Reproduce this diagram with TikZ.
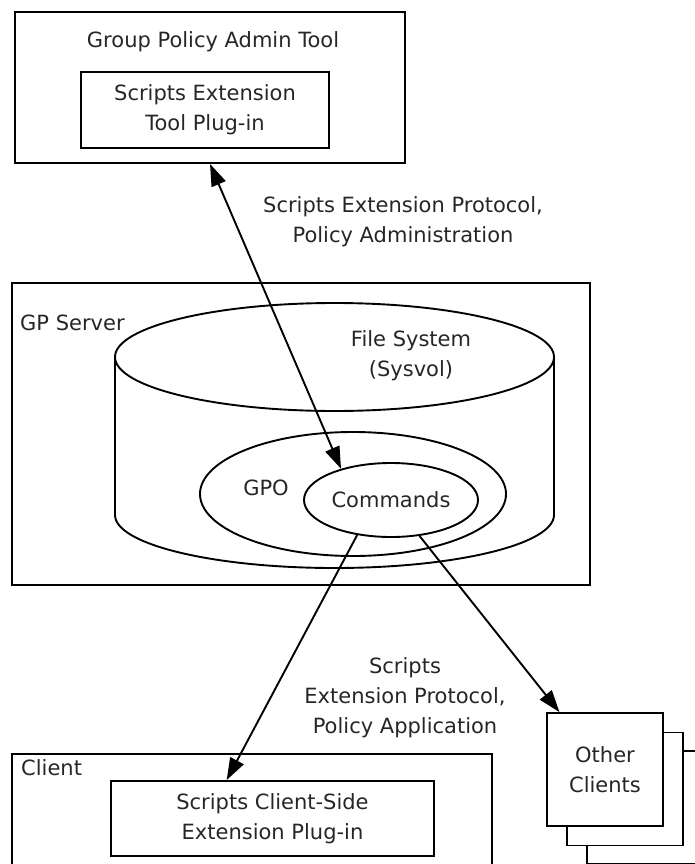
\documentclass[tikz,border=0pt]{standalone}
\usepackage{fontspec}
\setmainfont{DejaVu Sans}
\usetikzlibrary{arrows.meta}
\usetikzlibrary{shapes.geometric}

\begin{document}
\begin{tikzpicture}[x=1pt, y=-1pt,
    font=\fontsize{21}{30}\selectfont,
    box/.style={draw, line width=1.9pt, inner sep=0pt, align=center, text=black!85},
    oval/.style={draw, ellipse, line width=1.9pt, inner sep=0pt, text=black!85},
    txt/.style={text=black!85, align=center, inner sep=0pt},
    flow/.style={line width=1.9pt, -{Triangle[length=22pt,width=15pt]}}]
        \useasboundingbox (0,0) rectangle (695,864);
        \clip (0,0) rectangle (695,864);

        % admin tool
        \node[box, minimum width=390pt, minimum height=151pt] (admin) at (210,87.5) {};
        \node[txt] (admintitle) at (213,42) {Group Policy Admin Tool};
        \node[box, minimum width=248pt, minimum height=76pt] (toolplug) at (205,110) {Scripts Extension\\Tool Plug-in};

        % server with sysvol and gpo
        \node[box, minimum width=578pt, minimum height=302pt] (server) at (301,434) {};
        \node[txt, anchor=west] (serverlbl) at (20,323) {GP Server};
        \draw[line width=1.9pt] (115,357) -- (115,515)
            arc[start angle=180, end angle=360, x radius=219.5pt, y radius=53pt] -- (554,357);
        \draw[line width=1.9pt] (334.5,357) ellipse[x radius=219.5pt, y radius=54pt];
        \node[txt] (sysvol) at (411,356) {File System\\(Sysvol)};
        \node[oval, minimum width=306pt, minimum height=124pt] (gpo) at (353,494) {};
        \node[txt] (gpolbl) at (266,488) {GPO};
        \node[oval, minimum width=174pt, minimum height=74pt] (commands) at (391,500) {Commands};

        % client
        \node[box, minimum width=480pt, minimum height=140pt] (client) at (252,824) {};
        \node[txt, anchor=west] (clientlbl) at (21,768) {Client};
        \node[box, minimum width=323pt, minimum height=75pt] (cplug) at (272.5,818.5) {Scripts Client-Side\\Extension Plug-in};

        % other clients
        \node[box, fill=white, minimum width=116pt, minimum height=113pt] (other3) at (645,807.5) {};
        \node[box, fill=white, minimum width=116pt, minimum height=113pt] (other2) at (625,789) {};
        \node[box, fill=white, minimum width=116pt, minimum height=113pt] (other1) at (605,769.5) {Other\\Clients};

        % protocol arrows
        \draw[flow, {Triangle[length=22pt,width=15pt]}-{Triangle[length=22pt,width=15pt]}] (admin.south) -- (commands.148);
        \node[txt] (adminproto) at (403,222) {Scripts Extension Protocol,\\Policy Administration};
        \draw[flow] (commands.226) -- (cplug.140.5);
        \draw[flow] (commands) -- (other1);
        \node[txt] (clientproto) at (405,698) {Scripts\\Extension Protocol,\\Policy Application};
    \end{tikzpicture}
\end{document}
